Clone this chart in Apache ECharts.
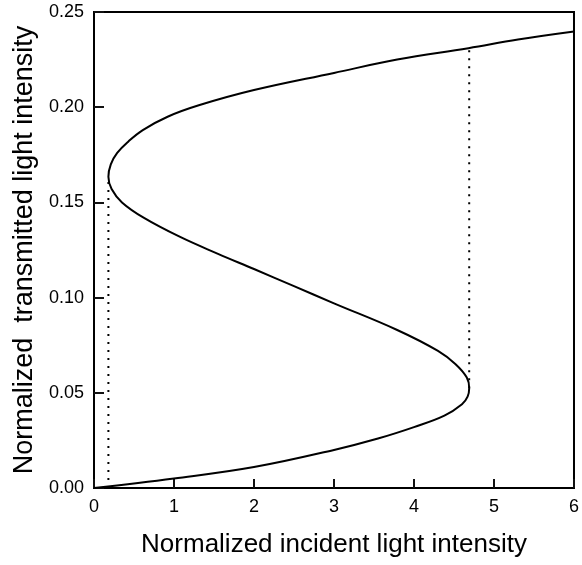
<!DOCTYPE html>
<html>
<head>
<meta charset="utf-8">
<script src="https://cdn.jsdelivr.net/npm/echarts@6/dist/echarts.min.js"></script>
<style>
  html, body { margin: 0; padding: 0; background: #fff; }
  #chart { width: 582px; height: 565px; }
</style>
</head>
<body>
<div id="chart"></div>
<script>
// curve, ordered along the S (by transmitted intensity)
var curveY = [0, 0.005, 0.011, 0.020, 0.026, 0.032, 0.038, 0.044, 0.048, 0.0524,
  0.058, 0.065, 0.072, 0.083, 0.097, 0.106, 0.115, 0.123, 0.132, 0.142, 0.150,
  0.157, 0.1635, 0.170, 0.176, 0.182, 0.188, 0.195, 0.201, 0.209, 0.218, 0.225,
  0.231, 0.2355, 0.2397]
var curveX = [0, 1.0, 2.0, 3.0, 3.55, 4.0, 4.38, 4.6, 4.67, 4.69,
  4.66, 4.52, 4.3, 3.79, 3.0, 2.5, 2.0, 1.55, 1.07, 0.62, 0.35,
  0.22, 0.18, 0.21, 0.29, 0.43, 0.61, 0.92, 1.31, 2.0, 3.0, 3.79,
  4.68, 5.3, 6.0]

// dotted jump lines
var leftDrop = [[0.18, 0], [0.18, 0.1635]]
var rightJump = [[4.69, 0.0524], [4.69, 0.231]]

var xTicks = [0, 1, 2, 3, 4, 5, 6]
var yTicks = ['0.00', '0.05', '0.10', '0.15', '0.20', '0.25']

var curve = curveY.map(function (y, i) { return [curveX[i], y] })

var font = 'Liberation Sans, Arial, sans-serif'

var chart = echarts.init(document.getElementById('chart'))
chart.setOption({
  animation: false,
  grid: {
    left: 94, right: 4, top: 12, bottom: 77,
    show: true, borderColor: '#000', borderWidth: 2
  },
  xAxis: {
    type: 'value', min: 0, max: 6, interval: 1,
    name: 'Normalized incident light intensity',
    nameLocation: 'middle', nameGap: 44,
    nameTextStyle: { fontFamily: font, fontSize: 26, color: '#000' },
    axisLine: { show: true, lineStyle: { color: '#000', width: 2 } },
    axisTick: { show: true, inside: true, length: 9, lineStyle: { color: '#111', width: 2 } },
    axisLabel: {
      margin: 10, fontFamily: font, fontSize: 18, color: '#000',
      formatter: function (v) { return xTicks.indexOf(v) >= 0 ? String(v) : '' }
    },
    splitLine: { show: false }
  },
  yAxis: {
    type: 'value', min: 0, max: 0.25, interval: 0.05,
    name: 'Normalized  transmitted light intensity',
    nameLocation: 'middle', nameGap: 56,
    nameTextStyle: { fontFamily: font, fontSize: 27, color: '#000' },
    axisLine: { show: true, lineStyle: { color: '#000', width: 2 } },
    axisTick: { show: true, inside: true, length: 10, lineStyle: { color: '#111', width: 2 } },
    axisLabel: {
      margin: 10, fontFamily: font, fontSize: 18, color: '#000',
      formatter: function (v) { return yTicks[Math.round(v / 0.05)] }
    },
    splitLine: { show: false }
  },
  series: [
    {
      type: 'line', data: curve, smooth: 0.4, showSymbol: false,
      lineStyle: { color: '#000', width: 2 }
    },
    {
      type: 'line', data: leftDrop, showSymbol: false,
      lineStyle: { color: '#000', width: 2, type: [2, 6] }
    },
    {
      type: 'line', data: rightJump, showSymbol: false,
      lineStyle: { color: '#000', width: 2, type: [2, 6] }
    }
  ]
})
</script>
</body>
</html>
